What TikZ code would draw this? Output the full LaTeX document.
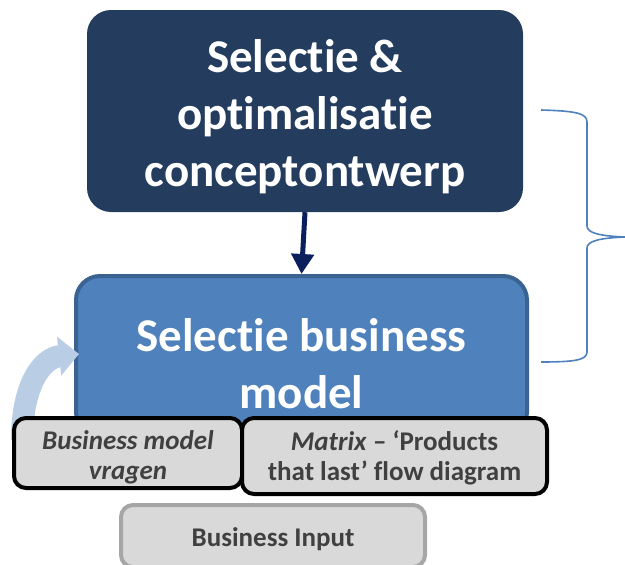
\documentclass[tikz,border=0pt]{standalone}
\usepackage{fontspec}
\setmainfont[Ligatures=NoCommon]{Carlito}
\usetikzlibrary{arrows.meta}
\definecolor{navy}{HTML}{243D5E}
\definecolor{arrowblue}{HTML}{0B1F5C}
\definecolor{midblue}{HTML}{4F81BD}
\definecolor{midborder}{HTML}{3A6391}
\definecolor{lightblue}{HTML}{B9CDE5}
\definecolor{boxgray}{HTML}{D9D9D9}
\definecolor{txtgray}{HTML}{404040}
\definecolor{bordgray}{HTML}{A6A6A6}
\tikzset{
  bigbox/.style={rounded corners=24pt, inner sep=0pt},
  bigtext/.style={text=white, font=\fontsize{47}{57}\selectfont\bfseries, align=center, inner sep=0pt, anchor=base},
  smallbox/.style={rounded corners=12pt, fill=boxgray, draw=black, line width=4pt, inner sep=0pt},
  smalltext/.style={text=txtgray, font=\fontsize{27}{30}\selectfont\bfseries, align=center, inner sep=0pt, anchor=base},
}
\begin{document}
\begin{tikzpicture}[x=1pt,y=-1pt]
\useasboundingbox (0,0) rectangle (625,565);
% top box
\node[bigbox, fill=navy, minimum width=436pt, minimum height=202pt] (top) at (305,111) {};
\node[bigtext] (toptxt) at (305,186) {Selectie \&\\optimalisatie\\conceptontwerp};
% second box
\node[bigbox, fill=midblue, draw=midborder, line width=4pt, minimum width=451pt, minimum height=160pt] (mid) at (301.5,356) {};
\node[bigtext] (midtxt) at (301.5,408) {Selectie business\\model};
% arrow top -> mid
\draw[arrowblue, line width=5pt, -{Triangle[width=22pt,length=20pt]}] (top.south) -- (mid.north);
% curved light arrow
\coordinate (cstart) at (22,440);
\coordinate (ctip) at (79,354);
\draw[lightblue, line width=22pt, -{Triangle[width=38pt,length=20pt]}] (cstart) .. controls (22,385) and (42,358) .. (ctip);
% small boxes
\node[smallbox, minimum width=228pt, minimum height=70pt] (bmv) at (128,453) {};
\node[smalltext, font=\fontsize{27}{30}\selectfont\bfseries\itshape] (bmvtxt) at (128,479) {Business model\\vragen};
\node[smallbox, minimum width=305pt, minimum height=76pt] (matrix) at (394.5,456) {};
\node[smalltext] (matrixtxt) at (394.5,480) {\textit{Matrix} – ‘Products\\that last’ flow diagram};
% bottom box
\node[smallbox, draw=bordgray, minimum width=304pt, minimum height=62pt] (binput) at (273,536) {};
\node[smalltext] (binputtxt) at (273,546) {Business Input};
% brace
\coordinate (b1) at (541,110);
\coordinate (b2) at (541,362);
\coordinate (btip) at (625,237);
\draw[midblue, line width=1.6pt] (b1) .. controls (575,111) and (587,113) .. (587,122)
  -- (587,226) .. controls (587,233) and (600,236) .. (btip)
  .. controls (600,238) and (587,241) .. (587,248)
  -- (587,352) .. controls (587,360) and (575,362) .. (b2);
\end{tikzpicture}
\end{document}
